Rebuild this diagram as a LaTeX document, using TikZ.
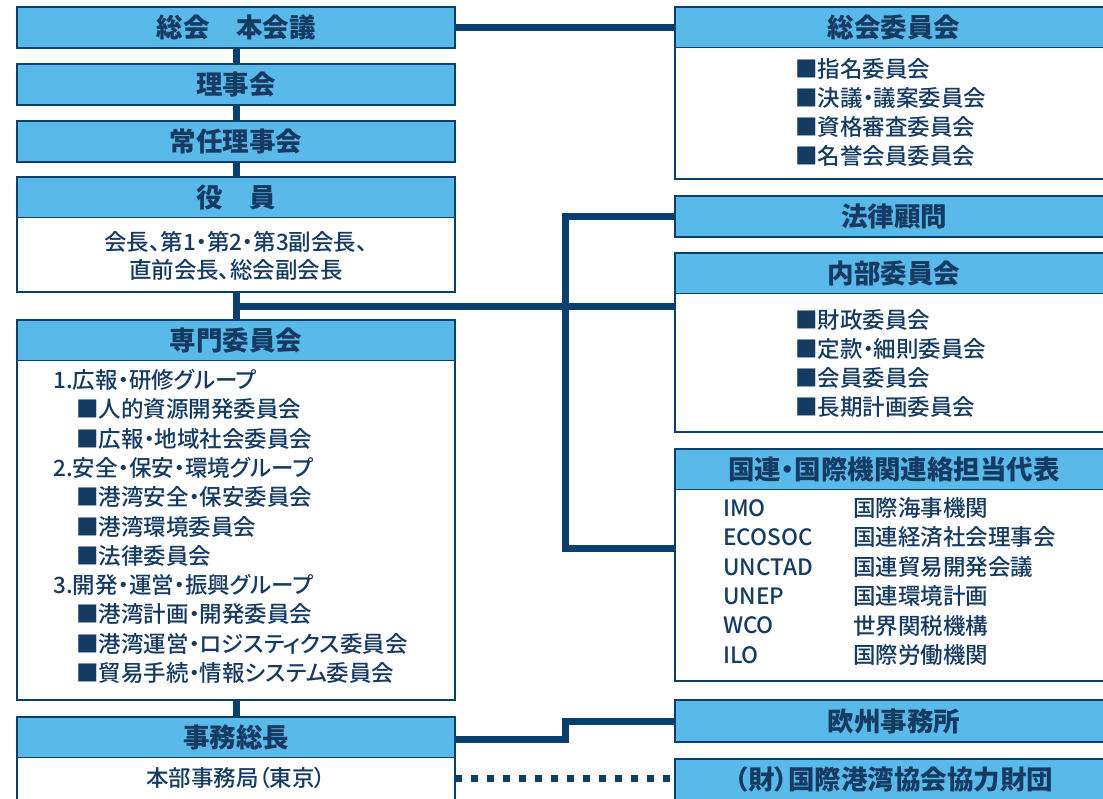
\documentclass[tikz,border=0pt]{standalone}
\usepackage{fontspec}
\setmainfont{Noto Sans CJK JP}[RawFeature=+palt, UprightFont={* Medium}, BoldFont={* Black}]
\usetikzlibrary{calc}
\definecolor{navy}{HTML}{0A406E}
\definecolor{hdr}{HTML}{59B9E9}
\definecolor{ink}{HTML}{163B62}
\newcommand\hfnt{\fontsize{26.5}{30}\selectfont\bfseries}
\newcommand\bfnt{\fontsize{22.5}{28}\selectfont}
\tikzset{
 frame/.style={rectangle, draw=navy, line width=2.4pt, inner sep=0pt, outer sep=0pt, anchor=north west, minimum width=438pt},
 hbox/.style={frame, fill=hdr, font=\hfnt, text=ink},
 tbox/.style={frame, fill=white, path picture={
   \fill[hdr] (path picture bounding box.north west) rectangle ([yshift=-40.5pt]path picture bounding box.north east);
   \draw[navy, line width=1pt] ([yshift=-40.5pt]path picture bounding box.north west) -- ([yshift=-40.5pt]path picture bounding box.north east);}},
 htext/.style={font=\hfnt, text=ink, inner sep=0pt},
 btext/.style={font=\bfnt, text=ink, inner sep=0pt, anchor=west},
 ctext/.style={font=\bfnt, text=ink, inner sep=0pt},
 conn/.style={draw=navy, line width=7pt},
 dotconn/.style={draw=navy, line width=7pt, dash pattern=on 7pt off 9pt},
}
\begin{document}
\begin{tikzpicture}[x=1pt,y=-1pt]
\useasboundingbox (0,0) rectangle (1103,799);
\clip (0,0) rectangle (1103,799);
% left column
\node[hbox, minimum height=41pt] (soukai) at (17,7) {総会　本会議};
\node[hbox, minimum height=41pt] (riji) at (17,64) {理事会};
\node[hbox, minimum height=41pt] (jounin) at (17,121) {常任理事会};
\node[tbox, minimum height=115pt] (yakuin) at (17,177) {};
\node[htext] (yakuinT) at ([yshift=-20.25pt]yakuin.north) {役　員};
\node[ctext] (yakuin1) at (236,242) {会長、第1・第2・第3副会長、};
\node[ctext] (yakuin2) at (236,270) {直前会長、総会副会長};
\node[tbox, minimum height=380pt] (senmon) at (17,320) {};
\node[htext] (senmonT) at ([yshift=-20.25pt]senmon.north) {専門委員会};
\foreach \x/\t [count=\i] in {53/1.広報・研修グループ, 76/■人的資源開発委員会, 76/■広報・地域社会委員会, 53/2.安全・保安・環境グループ, 76/■港湾安全・保安委員会, 76/■港湾環境委員会, 76/■法律委員会, 53/3.開発・運営・振興グループ, 76/■港湾計画・開発委員会, 76/■港湾運営・ロジスティクス委員会, 76/■貿易手続・情報システム委員会}
  {\node[btext] (sm\i) at (\x,{380+29.3*(\i-1)}) {\t};}
\node[tbox, minimum height=100pt] (jimu) at (17,717) {};
\node[htext] (jimuT) at ([yshift=-20.25pt]jimu.north) {事務総長};
\node[ctext] (jimu1) at (236,778) {本部事務局（東京）};
% right column
\node[tbox, minimum height=172pt] (iinkai) at (675,7) {};
\node[htext] (iinkaiT) at ([yshift=-20.25pt]iinkai.north) {総会委員会};
\foreach \t [count=\i] in {■指名委員会, ■決議・議案委員会, ■資格審査委員会, ■名誉会員委員会}
  {\node[btext] (ik\i) at (795,{69+29*(\i-1)}) {\t};}
\node[hbox, minimum height=41pt] (houritsu) at (675,196) {法律顧問};
\node[tbox, minimum height=179pt] (naibu) at (675,253) {};
\node[htext] (naibuT) at ([yshift=-20.25pt]naibu.north) {内部委員会};
\foreach \t [count=\i] in {■財政委員会, ■定款・細則委員会, ■会員委員会, ■長期計画委員会}
  {\node[btext] (nb\i) at (795,{320+29*(\i-1)}) {\t};}
\node[tbox, minimum height=232pt] (kokuren) at (675,449) {};
\node[htext] (kokurenT) at ([yshift=-20.25pt]kokuren.north) {国連・国際機関連絡担当代表};
\foreach \a/\b [count=\i] in {IMO/国際海事機関, ECOSOC/国連経済社会理事会, UNCTAD/国連貿易開発会議, UNEP/国連環境計画, WCO/世界関税機構, ILO/国際労働機関}
  {\node[btext] (ka\i) at (723,{508+29.4*(\i-1)}) {\a};
   \node[btext] (kb\i) at (853,{508+29.4*(\i-1)}) {\b};}
\node[hbox, minimum height=42pt] (oushu) at (675,700) {欧州事務所};
\node[hbox, minimum height=60pt] (zaidan) at (675,759) {};
\node[htext] (zaidanT) at (894,779) {（財）国際港湾協会協力財団};
% connectors
\draw[conn] (soukai.east) -- (soukai.east -| iinkai.west);
\foreach \a/\b in {soukai/riji, riji/jounin, jounin/yakuin, yakuin/senmon, senmon/jimu}
  {\draw[conn] (\a.south) -- (\b.north);}
\coordinate (j1) at (236,307);
\draw[conn] (j1) -- (j1 -| naibu.west);
\coordinate (vx) at (565.5,548);
\draw[conn] (houritsu.west) -| (vx) -- (vx -| kokuren.west);
\coordinate (yj) at (0,739);
\draw[conn] (jimu.east |- yj) -| (vx |- oushu.west) -- (oushu.west);
\coordinate (yd) at (0,778);
\draw[dotconn] (jimu.east |- yd) -- (zaidan.west |- yd);
\end{tikzpicture}
\end{document}
